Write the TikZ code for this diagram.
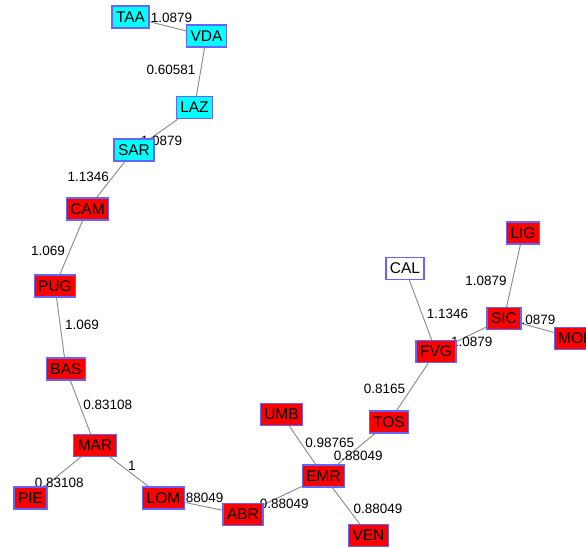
\documentclass[tikz,border=0pt]{standalone}
\usepackage{fontspec}
\setmainfont{Liberation Sans}
\usepackage{xcolor}
\usetikzlibrary{backgrounds}

\definecolor{frameblue}{RGB}{100,100,255}
\definecolor{linkgray}{RGB}{135,135,135}
\definecolor{aqua}{RGB}{0,255,255}
\definecolor{hotred}{RGB}{255,0,0}

\begin{document}
\begin{tikzpicture}[
    x=1pt, y=-1pt,
    region/.style={rectangle, draw=frameblue, line width=1.2pt,
                   inner xsep=4pt, inner ysep=0pt, minimum height=22pt,
                   font=\fontsize{15.5}{18}\selectfont},
    south/.style={region, fill=hotred},
    north/.style={region, fill=aqua},
    lone/.style={region, fill=white},
    link/.style={draw=linkgray, line width=0.9pt},
    wt/.style={font=\fontsize{13.5}{16}\selectfont, inner sep=0pt}
]
\useasboundingbox (0,0) rectangle (586,548);
\clip (0,0) rectangle (586,548);

% Cyan group
\node[north] (taa) at (130.5,17)  {TAA};
\node[north] (vda) at (206.5,36)  {VDA};
\node[north] (laz) at (194.5,107.5) {LAZ};
\node[north] (sar) at (134,150)   {SAR};

% Red chain on the left
\node[south] (cam) at (87.5,209)  {CAM};
\node[south] (pug) at (55,286)    {PUG};
\node[south] (bas) at (66,369)    {BAS};
\node[south] (mar) at (95,445.5)  {MAR};
\node[south] (pie) at (30.5,498)  {PIE};
\node[south] (lom) at (163.5,498) {LOM};
\node[south] (abr) at (243,514.5) {ABR};

% Centre
\node[south] (umb) at (281.5,414.5) {UMB};
\node[south] (emr) at (323.5,476)   {EMR};
\node[south] (tos) at (389,422)     {TOS};
\node[south] (ven) at (368.5,535.5) {VEN};

% Right group
\node[lone]  (cal) at (405,268.5) {CAL};
\node[south] (fvg) at (436,351.5) {FVG};
\node[south] (sic) at (504,318.5) {SIC};
\node[south] (lig) at (523,233)   {LIG};
\node[south] (mol) at (575,338.5) {MOL};

% Edges with weights
\begin{scope}[on background layer]
\draw[link] (taa) -- (vda) node[wt] at (171.5,18)  {1.0879};
\draw[link] (vda) -- (laz) node[wt] at (171,69.5)  {0.60581};
\draw[link] (laz) -- (sar) node[wt] at (161.5,140.5) {1.0879};
\draw[link] (sar) -- (cam) node[wt] at (88.3,177)  {1.1346};
\draw[link] (cam) -- (pug) node[wt] at (48,251)    {1.069};
\draw[link] (pug) -- (bas) node[wt] at (82,324.5)  {1.069};
\draw[link] (bas) -- (mar) node[wt] at (107.7,404.5) {0.83108};
\draw[link] (mar) -- (pie) node[wt] at (59.3,482.5) {0.83108};
\draw[link] (mar) -- (lom) node[wt] at (132,465.5)  {1};
\draw[link] (lom) -- (abr) node[wt] at (199,497.5)  {0.88049};
\draw[link] (abr) -- (emr) node[wt] at (284.3,503.5) {0.88049};
\draw[link] (emr) -- (umb) node[wt] at (329.7,443)  {0.98765};
\draw[link] (emr) -- (tos) node[wt] at (358.3,456)  {0.88049};
\draw[link] (emr) -- (ven) node[wt] at (378,509)    {0.88049};
\draw[link] (tos) -- (fvg) node[wt] at (384.5,389)  {0.8165};
\draw[link] (fvg) -- (cal) node[wt] at (447.5,314)  {1.1346};
\draw[link] (fvg) -- (sic) node[wt] at (471.7,342)  {1.0879};
\draw[link] (sic) -- (lig) node[wt] at (486,280.5)  {1.0879};
\draw[link] (sic) -- (mol) node[wt] at (534.7,319.5) {1.0879};
\end{scope}

\end{tikzpicture}
\end{document}
